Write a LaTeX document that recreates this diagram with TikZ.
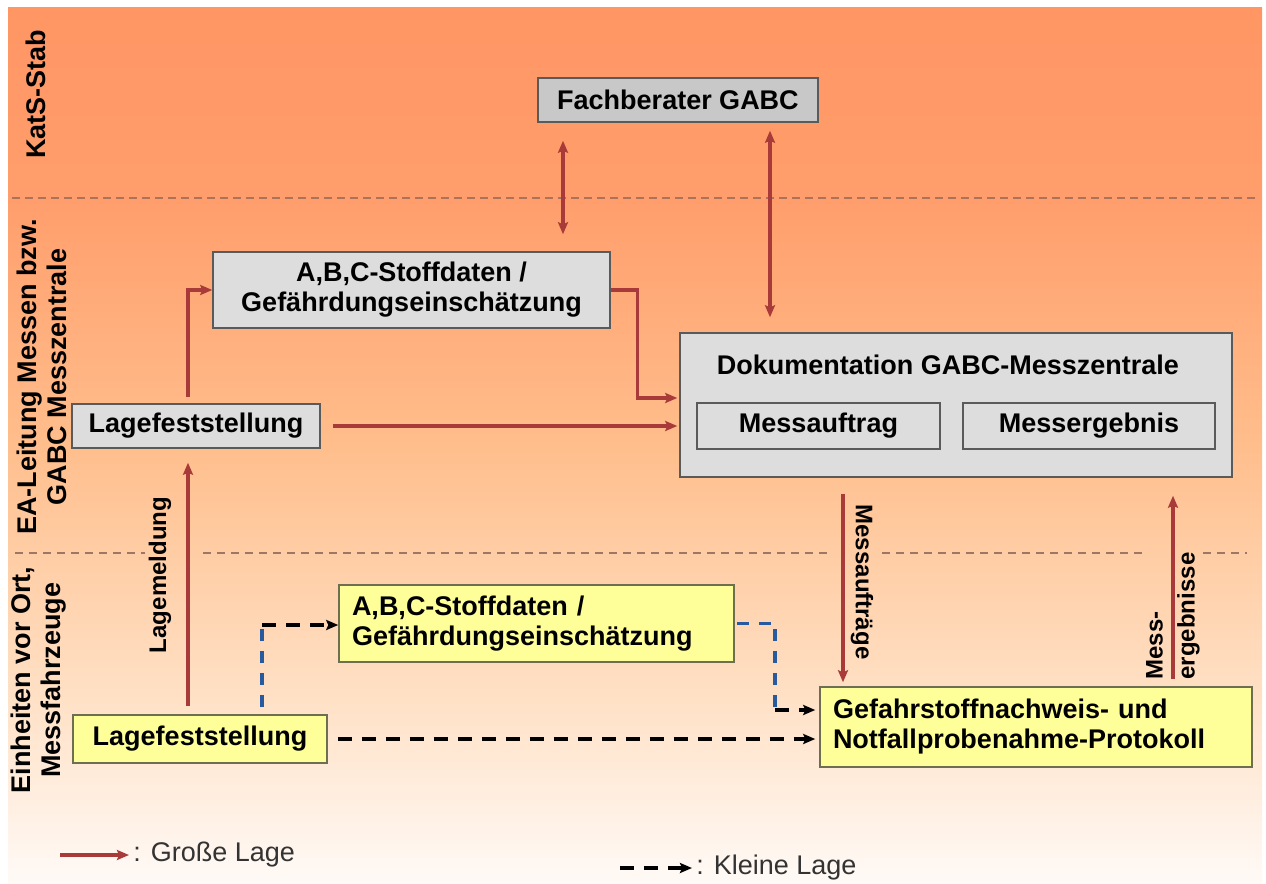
\documentclass[tikz,border=0pt]{standalone}
\usepackage{fontspec}
\setmainfont{Liberation Sans}
\usetikzlibrary{calc,arrows.meta,positioning}

\definecolor{grossrot}{RGB}{168,58,58}
\definecolor{kleinblau}{RGB}{40,90,160}
\definecolor{boxgrau}{RGB}{221,221,221}
\definecolor{fachgrau}{RGB}{200,200,200}
\definecolor{boxrand}{RGB}{90,90,90}
\definecolor{boxgelb}{RGB}{255,255,153}
\definecolor{gelbrand}{RGB}{110,110,80}
\definecolor{trennlinie}{RGB}{170,115,90}
\definecolor{bgT}{RGB}{255,150,100}
\definecolor{bgA}{RGB}{255,158,108}
\definecolor{bgB}{RGB}{255,190,140}
\definecolor{bgC}{RGB}{255,225,198}
\definecolor{bgD}{RGB}{255,250,247}
\pgfdeclareverticalshading{lagen}{100bp}{color(0bp)=(bgD); color(25bp)=(bgD);
  color(35.5bp)=(bgC); color(50bp)=(bgB); color(64bp)=(bgA); color(75bp)=(bgT); color(100bp)=(bgT)}

\begin{document}
\begin{tikzpicture}[x=0.5pt,y=-0.5pt,>={Stealth[length=6pt,width=5pt,inset=1pt]},
    box/.style={draw=boxrand,line width=0.75pt,fill=boxgrau,inner sep=0pt,
      font=\bfseries\fontsize{13.5}{15}\selectfont,align=center},
    gelb/.style={box,fill=boxgelb,draw=gelbrand},
    gross/.style={->,draw=grossrot,line width=1.6pt},
    klein/.style={->,line width=1.7pt,dash pattern=on 7pt off 5pt},
    blau/.style={draw=kleinblau,line width=1.7pt,dash pattern=on 6pt off 5pt},
    ebene/.style={rotate=90,align=center,font=\bfseries\fontsize{13.5}{15}\selectfont},
    pfeiltext/.style={font=\bfseries\fontsize{12}{16}\selectfont}]

  \useasboundingbox (0,0) rectangle (1266,884);
  \shade[shading=lagen] (8,7) rectangle (1262,884);
  \draw[trennlinie,line width=0.9pt,dash pattern=on 4pt off 2.5pt] (12,198) -- (1256,198);
  \draw[trennlinie!70!gray,line width=0.6pt,dash pattern=on 4pt off 3pt]
    (15,553) -- (145,553) (203,553) -- (832,553) (882,553) -- (1143,553) (1203,553) -- (1247,553);

  % Ebenen
  \node[ebene] (lbKats) at (36,94) {KatS-Stab};
  \node[ebene] (lbEA) at (42,377) {EA-Leitung Messen bzw.\\GABC Messzentrale};
  \node[ebene] (lbEinh) at (39,680) {Einheiten vor Ort,\\Messfahrzeuge};

  % Kaesten
  \node[box,fill=fachgrau,minimum width=140pt,minimum height=22pt] (fach) at (678,100) {Fachberater GABC};
  \node[box,minimum width=198.5pt,minimum height=38pt] (stoffO) at (411.5,290)
    {A,B,C-Stoffdaten /\\Gef\"ahrdungseinsch\"atzung};
  \node[box,minimum width=124pt,minimum height=22pt] (lageO) at (196,426) {Lagefeststellung};
  \node[box,minimum width=276pt,minimum height=72pt] (doku) at (956,405) {};
  \node[font=\bfseries\fontsize{13.5}{15}\selectfont] (dokuT) at (948,365) {Dokumentation GABC-Messzentrale};
  \node[box,minimum width=121.5pt,minimum height=23pt] (auftrag) at (818.5,426) {Messauftrag};
  \node[box,minimum width=126pt,minimum height=23pt] (ergebnis) at (1089,426) {Messergebnis};
  \node[gelb,align=left,text width=184.5pt,minimum height=38.5pt,inner xsep=6.5pt] (stoffU) at (536.5,623.5)
    {A,B,C-Stoffdaten /\\Gef\"ahrdungseinsch\"atzung};
  \node[gelb,minimum width=127pt,minimum height=24pt] (lageU) at (200,739) {Lagefeststellung};
  \node[gelb,align=left,text width=203pt,minimum height=40pt,inner xsep=6.5pt] (protokoll) at (1036,727)
    {Gefahrstoffnachweis- und\\Notfallprobenahme-Protokoll};

  % grosse Lage
  \draw[gross,shorten <=4pt,shorten >=7pt] ([xshift=-6pt]lageU.north) -- ([xshift=-6pt]lageU.north |- lageO.south);
  \node[pfeiltext,rotate=90] (lbMeldung) at (160,575) {Lagemeldung};
  \draw[gross,shorten <=3pt] ([xshift=-4pt]lageO.north) |- (stoffO.west);
  \draw[gross,shorten >=1pt] (stoffO.east) -- ++(27,0) |- ([yshift=3.5pt]doku.west);
  \draw[gross,shorten <=6pt,shorten >=1pt] (lageO.east) -- (lageO.east -| doku.west);
  \draw[gross,<->,shorten <=9pt,shorten >=8.5pt] ([xshift=-57.5pt]fach.south) -- ([xshift=-57.5pt]fach.south |- stoffO.north);
  \draw[gross,<->,shorten <=4pt,shorten >=7.5pt] ([xshift=46pt]fach.south) -- ([xshift=46pt]fach.south |- doku.north);
  \draw[gross,shorten <=8pt,shorten >=2pt] ([xshift=-56.5pt]doku.south) -- ([xshift=-56.5pt]doku.south |- protokoll.north);
  \node[pfeiltext,rotate=-90] (lbAuftr) at (862,582) {Messauftr\"age};
  \draw[gross,shorten <=3.5pt,shorten >=9pt] ([xshift=108.5pt]doku.south |- protokoll.north) -- ([xshift=108.5pt]doku.south);
  \node[pfeiltext,rotate=90,align=left] (lbErgeb) at (1173,616) {Mess-\\ergebnisse};

  % kleine Lage
  \coordinate (k1) at (262,625);
  \coordinate (k2) at (775,710);
  \draw[blau] ([xshift=31pt,yshift=3.5pt]lageU.north) -- (k1);
  \draw[klein] (k1) -- (k1 -| stoffU.west);
  \draw[blau,shorten <=1pt] (stoffU.east) -| (k2);
  \draw[klein,shorten >=2pt] (k2) -- (k2 -| protokoll.west);
  \draw[klein,shorten <=5pt,shorten >=2pt] (lageU.east) -- (lageU.east -| protokoll.west);

  % Legende
  \coordinate (lg1) at (60,855);
  \coordinate (lg2) at (620,868);
  \node[anchor=west,inner sep=2pt,text=black!80,font=\fontsize{13.5}{15}\selectfont] (lgGross) at (129,855) {: Gro\ss e Lage};
  \node[anchor=west,inner sep=2pt,text=black!80,font=\fontsize{13.5}{15}\selectfont] (lgKlein) at (692,868) {: Kleine Lage};
  \draw[gross] (lg1) -- (lgGross.west);
  \draw[klein] (lg2) -- (lgKlein.west);
\end{tikzpicture}
\end{document}
